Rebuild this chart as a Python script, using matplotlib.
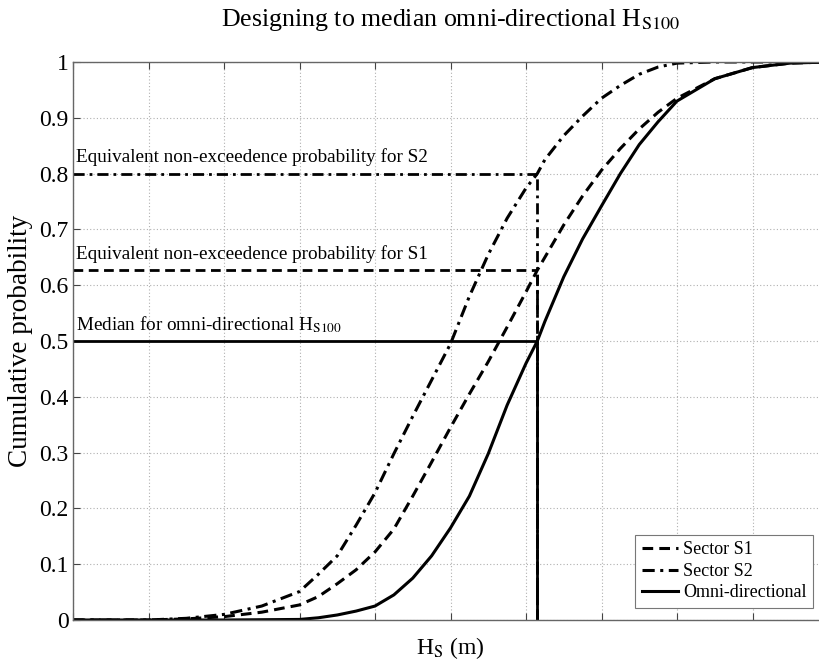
import matplotlib

matplotlib.use("Agg")
import matplotlib.pyplot as plt
from matplotlib.ticker import MultipleLocator, NullFormatter

# values (x in grid units, y = cumulative probability)
hs_omni = [0.0, 1.0, 2.0, 3.0, 3.25, 3.5, 3.75, 4.0, 4.25, 4.5, 4.75, 5.0, 5.25,
           5.5, 5.75, 6.0, 6.15, 6.25, 6.5, 6.75, 7.0, 7.25, 7.5, 7.75, 8.0,
           8.5, 9.0, 9.5, 10.0]
p_omni = [0.0, 0.0, 0.0, 0.001, 0.004, 0.009, 0.016, 0.025, 0.045, 0.075, 0.115,
          0.165, 0.222, 0.298, 0.385, 0.46, 0.50, 0.535, 0.615, 0.683, 0.742,
          0.80, 0.852, 0.893, 0.93, 0.97, 0.99, 0.998, 1.0]

hs_s1 = [0.0, 1.0, 1.5, 2.0, 2.5, 3.0, 3.25, 3.5, 3.75, 4.0, 4.25, 4.5, 4.75,
         5.0, 5.25, 5.5, 5.75, 6.0, 6.15, 6.25, 6.5, 6.75, 7.0, 7.25, 7.5,
         7.75, 8.0, 8.5, 9.0, 9.5, 10.0]
p_s1 = [0.0, 0.0, 0.002, 0.006, 0.014, 0.027, 0.042, 0.065, 0.09, 0.122, 0.163,
        0.222, 0.283, 0.345, 0.405, 0.463, 0.525, 0.588, 0.627, 0.65, 0.708,
        0.76, 0.806, 0.845, 0.88, 0.91, 0.935, 0.97, 0.99, 0.998, 1.0]

hs_s2 = [0.0, 1.0, 1.5, 2.0, 2.5, 3.0, 3.25, 3.5, 3.75, 4.0, 4.25, 4.5, 4.75,
         5.0, 5.25, 5.5, 5.75, 6.0, 6.15, 6.25, 6.5, 6.75, 7.0, 7.25, 7.5,
         7.75, 8.0, 8.5, 10.0]
p_s2 = [0.0, 0.0, 0.003, 0.01, 0.025, 0.051, 0.082, 0.115, 0.17, 0.228, 0.298,
        0.365, 0.43, 0.495, 0.58, 0.655, 0.72, 0.774, 0.80, 0.825, 0.868,
        0.903, 0.935, 0.958, 0.978, 0.991, 0.998, 1.0, 1.0]

hs_design = 6.15
p_median = 0.5
p_equiv_s1 = 0.627
p_equiv_s2 = 0.80

y_ticks = [0, 0.1, 0.2, 0.3, 0.4, 0.5, 0.6, 0.7, 0.8, 0.9, 1]
y_tick_labels = ["0", "0.1", "0.2", "0.3", "0.4", "0.5", "0.6", "0.7", "0.8", "0.9", "1"]

plt.rcParams["font.family"] = ["Liberation Serif", "DejaVu Serif"]
plt.rcParams["mathtext.fontset"] = "stix"

W, H = 819, 663
fig = plt.figure(figsize=(W / 100, H / 100), dpi=100)
ax = fig.add_axes([73 / W, (H - 620) / H, (828 - 73) / W, (620 - 62) / H])

dash = (0, (3.5, 2))
dashdot = (0, (4, 1.8, 1, 1.8))
lw = 2.2
ax.plot(hs_s1, p_s1, color="black", linestyle=dash, linewidth=lw, label="Sector S1")
ax.plot(hs_s2, p_s2, color="black", linestyle=dashdot, linewidth=lw, label="Sector S2")
ax.plot(hs_omni, p_omni, color="black", linestyle="-", linewidth=lw, label="Omni-directional")

# design guide lines
ax.plot([0, hs_design], [p_equiv_s2, p_equiv_s2], color="black", linestyle=dashdot, linewidth=2)
ax.plot([hs_design, hs_design], [0, p_equiv_s2], color="black", linestyle=dashdot, linewidth=2)
ax.plot([0, hs_design], [p_equiv_s1, p_equiv_s1], color="black", linestyle=dash, linewidth=2)
ax.plot([hs_design, hs_design], [0, p_equiv_s1], color="black", linestyle=dash, linewidth=2)
ax.plot([0, hs_design], [p_median, p_median], color="black", linestyle="-", linewidth=2)
ax.plot([hs_design, hs_design], [0, p_median], color="black", linestyle="-", linewidth=2)

ax.text(0.04, p_equiv_s2 + 0.02, "Equivalent non-exceedence probability for S2", fontsize=13.8, va="baseline")
ax.text(0.04, p_equiv_s1 + 0.02, "Equivalent non-exceedence probability for S1", fontsize=13.8, va="baseline")
ax.text(0.04, p_median + 0.02, r"Median for omni-directional H$_{\rm S100}$", fontsize=13.8, va="baseline")

ax.set_xlim(0, 10)
ax.set_ylim(0, 1)
ax.xaxis.set_major_locator(MultipleLocator(1))
ax.xaxis.set_major_formatter(NullFormatter())
ax.set_yticks(y_ticks)
ax.set_yticklabels(y_tick_labels)
ax.tick_params(direction="in", top=True, right=True, length=5, width=0.8,
               colors="#444444", labelcolor="black", labelsize=17, pad=3)
for s in ax.spines.values():
    s.set_color("#666666")
    s.set_linewidth(1.0)
ax.grid(True, linestyle=(0, (1, 2)), color="#b0b0b0", linewidth=0.8)

ax.set_xlabel(r"H$_{\rm S}$ (m)", fontsize=17, labelpad=8)
ax.set_ylabel("Cumulative probability", fontsize=19.5, labelpad=5)
ax.set_title(r"Designing to median omni-directional H$_{\rm S100}$", fontsize=18.6, pad=26)

leg = ax.legend(loc="lower right", bbox_to_anchor=(0.98, 0.022), fontsize=13,
                handlelength=2.0, handletextpad=0.3, borderpad=0.35, labelspacing=0.25,
                fancybox=False, framealpha=1, edgecolor="#777777", borderaxespad=0)
leg.get_frame().set_linewidth(0.8)

fig.savefig("out.png", dpi=100)
